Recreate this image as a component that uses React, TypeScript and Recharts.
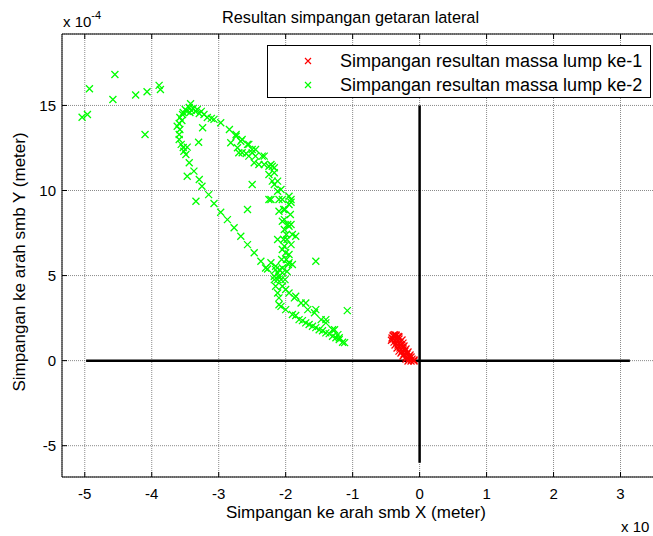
import React from 'react';
import {
  ScatterChart,
  Scatter,
  XAxis,
  YAxis,
  CartesianGrid,
  ReferenceLine,
} from 'recharts';

// values in units of 1e-4 m
const xTicks = [-5, -4, -3, -2, -1, 0, 1, 2, 3];
const yTicks = [-5, 0, 5, 10, 15];
const xDomain = [-5.34, 3.5];
const yDomain = [-6.84, 19.2];

const seriesNames = [
  'Simpangan resultan massa lump ke-1',
  'Simpangan resultan massa lump ke-2',
];

const lump1X = [
  -0.397, -0.352, -0.308, -0.397, -0.352, -0.308, -0.263, -0.382, -0.337, -0.293, -0.248,
  -0.367, -0.323, -0.278, -0.233, -0.337, -0.293, -0.248, -0.203, -0.308, -0.263, -0.218,
  -0.173, -0.278, -0.233, -0.188, -0.143, -0.248, -0.203, -0.158, -0.128, -0.203, -0.158,
  -0.113, -0.084, -0.173, -0.128, -0.084, -0.412, -0.42, -0.39, -0.37, -0.35, -0.32,
];
const lump1Y = [
  1.45, 1.45, 1.39, 1.27, 1.27, 1.27, 1.21, 1.09, 1.09, 1.09, 1.03,
  0.92, 0.92, 0.92, 0.86, 0.74, 0.74, 0.74, 0.68, 0.56, 0.56, 0.56,
  0.51, 0.45, 0.39, 0.39, 0.33, 0.27, 0.21, 0.21, 0.21, 0.09, 0.09,
  0.09, 0.04, -0.02, -0.02, -0.02, 1.33, 1.2, 1.5, 1.52, 1.5, 1.42,
];

const lump2X = [
  // scattered outliers
  -4.55, -4.93, -4.58, -4.24, -4.07, -3.89, -3.87, -5.04, -4.96, -4.10, -3.42, -1.08, -1.55,
  // top of loop
  -3.50, -3.44, -3.38, -3.32, -3.26, -3.53, -3.47, -3.41, -3.35, -3.29, -3.22, -3.58, -3.55,
  -3.59, -3.58, -3.59, -3.56, -3.53, -3.49, -3.43, -3.17, -3.11,
  // left branch
  -3.54, -3.62, -3.59, -3.52, -3.44, -3.37, -3.29, -3.25, -3.15, -3.07, -2.97, -2.87, -2.77,
  -2.67, -2.57, -2.47, -2.37, -2.27, -2.17,
  // interior
  -3.24, -3.30, -3.47, -3.34, -2.57, -2.50, -3.47, -1.85, -1.92, -1.95, -1.90, -2.25,
  // right branch
  -3.07, -2.97, -2.84, -2.74, -2.65, -2.55, -2.45, -2.32, -2.22, -2.17, -2.12, -2.07, -2.05,
  -2.03, -2.02, -2.02, -2.03, -2.05, -2.06, -2.09, -2.12,
  // inner band
  -2.82, -2.72, -2.65, -2.55, -2.47, -2.40, -2.25, -2.17, -2.74, -2.67, -2.57, -2.50, -2.45,
  -2.70, -2.59, -2.50, -2.35, -2.32, -2.20, -2.25, -2.20, -2.17, -2.12, -2.22, -2.10, -1.95,
  -1.92, -2.10, -2.05, -1.97, -2.12, -2.02, -1.92, -2.00, -1.95, -2.05, -2.15, -2.10,
  // second column
  -1.95, -1.93, -1.92, -1.90, -1.95, -1.96, -1.98, -2.01, -1.99, -1.98, -1.99, -2.01,
  // tail
  -2.15, -2.12, -2.17, -2.15, -2.12, -2.10, -2.05, -2.07, -2.05, -2.30, -2.22, -2.07,
  -1.95, -1.87, -1.77, -1.67, -1.57, -1.47, -1.40, -1.30, -1.22,
  -2.10, -2.00, -1.90, -1.80, -1.70, -1.60, -1.50, -1.40, -1.30, -1.20, -1.15,
  -1.85, -1.75, -1.65, -1.55, -1.45, -1.35, -1.25, -1.12,
  -2.00, -1.85, -1.70, -1.55, -1.40, -1.27, -1.20,
];
const lump2Y = [
  16.82, 15.98, 15.35, 15.61, 15.81, 16.18, 15.94, 14.31, 14.47, 13.29, 15.10, 2.94, 5.84,
  14.76, 14.88, 14.82, 14.76, 14.65, 14.59, 14.65, 14.71, 14.65, 14.53, 14.47, 14.29, 14.12,
  13.94, 13.59, 13.29, 12.71, 12.53, 12.12, 14.59, 14.29, 14.24,
  14.47, 13.78, 13.0, 12.31, 11.63, 11.14, 10.65, 10.25, 9.76, 9.24, 8.72, 8.29, 7.81,
  7.31, 6.82, 6.34, 5.84, 5.39, 4.96,
  13.69, 12.84, 10.84, 9.37, 8.88, 10.35, 12.55, 7.31, 9.47, 7.90, 5.65, 9.47,
  14.18, 13.98, 13.59, 13.29, 13.0, 12.71, 12.41, 12.02, 11.53, 11.04, 10.55, 10.06, 9.47,
  8.88, 8.29, 7.71, 7.12, 6.53, 5.94, 5.35, 4.76,
  12.81, 12.51, 12.22, 12.02, 11.63, 11.53, 11.43, 11.34, 13.19, 12.90, 12.71, 12.41, 12.02,
  12.22, 12.18, 12.22, 12.02, 11.53, 11.43, 10.94, 10.55, 10.35, 9.96, 9.47, 9.47, 9.66,
  9.31, 8.78, 8.19, 8.0, 7.12, 6.72, 6.82, 6.34, 5.75, 5.45, 5.35, 4.96,
  9.18, 8.59, 8.0, 7.41, 6.24, 5.65, 5.24, 8.88, 7.41, 7.12, 5.94, 4.76,
  5.55, 5.16, 4.76, 4.37, 3.98, 3.69, 5.16, 4.76, 4.37, 5.45, 5.75, 3.19,
  3.98, 3.69, 3.39, 3.0, 2.81, 2.41, 2.22, 1.82, 1.53,
  3.29, 3.0, 2.71, 2.41, 2.22, 2.02, 1.82, 1.63, 1.43, 1.24, 1.08,
  2.65, 2.35, 2.12, 1.94, 1.76, 1.59, 1.35, 1.06,
  4.18, 3.78, 3.39, 3.0, 2.41, 1.82, 1.35,
];

// black reference axes drawn in the plot
const hLineX = [-4.98, 3.14];
const vLineY = [-6, 15];

const lump1 = lump1X.map((x, i) => ({ x, y: lump1Y[i] }));
const lump2 = lump2X.map((x, i) => ({ x, y: lump2Y[i] }));

const FONT = '"Liberation Sans", Arial, sans-serif';

const makeCross = (color: string) => (props: any) => {
  const { cx, cy } = props;
  if (cx == null || cy == null) return <g />;
  const s = 3.5;
  return (
    <path
      d={`M${cx - s},${cy - s}L${cx + s},${cy + s}M${cx - s},${cy + s}L${cx + s},${cy - s}`}
      stroke={color}
      strokeWidth={1.3}
      fill="none"
    />
  );
};

const Cross = ({ color }: { color: string }) => (
  <svg width={10} height={10} style={{ display: 'block' }}>
    <path d="M2,2L8,8M2,8L8,2" stroke={color} strokeWidth={1.2} />
  </svg>
);

export default function App() {
  const tickStyle = { fill: '#000', fontSize: 15, fontFamily: FONT };
  return (
    <div
      style={{
        position: 'absolute',
        left: 0,
        top: 0,
        width: 653,
        height: 536,
        overflow: 'hidden',
        background: '#fff',
        fontFamily: FONT,
      }}
    >
      <ScatterChart
        width={660}
        height={536}
        margin={{ top: 24, left: 22, right: 6, bottom: 29 }}
      >
        <CartesianGrid stroke="#8a8a8a" strokeDasharray="1 1" strokeWidth={1} />
        <XAxis
          type="number"
          dataKey="x"
          domain={xDomain}
          ticks={xTicks}
          allowDataOverflow
          height={30}
          tickSize={-5}
          tickMargin={16}
          tick={tickStyle}
          axisLine={{ stroke: '#000' }}
          tickLine={{ stroke: '#000' }}
          interval={0}
        />
        <XAxis
          xAxisId="top"
          orientation="top"
          type="number"
          dataKey="x"
          domain={xDomain}
          ticks={xTicks}
          allowDataOverflow
          height={10}
          tickSize={-5}
          tickFormatter={() => ''}
          axisLine={{ stroke: '#000' }}
          tickLine={{ stroke: '#000' }}
          interval={0}
        />
        <YAxis
          type="number"
          dataKey="y"
          domain={yDomain}
          ticks={yTicks}
          allowDataOverflow
          width={40}
          tickSize={-5}
          tickMargin={11}
          tick={tickStyle}
          axisLine={{ stroke: '#000' }}
          tickLine={{ stroke: '#000' }}
          interval={0}
        />
        <Scatter
          name={seriesNames[1]}
          data={lump2}
          fill="#00ff00"
          shape={makeCross('#00ff00')}
          isAnimationActive={false}
        />
        <Scatter
          name={seriesNames[0]}
          data={lump1}
          fill="#ff0000"
          shape={makeCross('#ff0000')}
          isAnimationActive={false}
        />
        <ReferenceLine
          segment={[
            { x: hLineX[0], y: 0 },
            { x: hLineX[1], y: 0 },
          ]}
          stroke="#000"
          strokeWidth={2.5}
        />
        <ReferenceLine
          segment={[
            { x: 0, y: vLineY[0] },
            { x: 0, y: vLineY[1] },
          ]}
          stroke="#000"
          strokeWidth={2.5}
        />
      </ScatterChart>

      {/* title */}
      <div
        style={{
          position: 'absolute',
          left: 222,
          top: 8,
          fontSize: 16.3,
          lineHeight: '18px',
          whiteSpace: 'nowrap',
          color: '#000',
        }}
      >
        Resultan simpangan getaran lateral
      </div>
      {/* y exponent */}
      <div
        style={{
          position: 'absolute',
          left: 63,
          top: 13,
          fontSize: 15,
          lineHeight: '17px',
          whiteSpace: 'nowrap',
        }}
      >
        x 10<span style={{ fontSize: 11, position: 'relative', top: -8 }}>-4</span>
      </div>
      {/* x exponent (cut off at the right edge in the original) */}
      <div
        style={{
          position: 'absolute',
          left: 621,
          top: 518,
          fontSize: 15,
          lineHeight: '17px',
          whiteSpace: 'nowrap',
        }}
      >
        x 10
      </div>
      {/* x label */}
      <div
        style={{
          position: 'absolute',
          left: 226,
          top: 503,
          fontSize: 17,
          lineHeight: '19px',
          whiteSpace: 'nowrap',
        }}
      >
        Simpangan ke arah smb X (meter)
      </div>
      {/* y label */}
      <div
        style={{
          position: 'absolute',
          left: 19,
          top: 262,
          fontSize: 17,
          lineHeight: '19px',
          whiteSpace: 'nowrap',
          transform: 'translate(-50%, -50%) rotate(-90deg)',
        }}
      >
        Simpangan ke arah smb Y (meter)
      </div>
      {/* legend */}
      <div
        style={{
          position: 'absolute',
          left: 267,
          top: 45,
          width: 384,
          height: 53,
          border: '1px solid #000',
          background: '#fff',
          boxSizing: 'border-box',
        }}
      >
        {[
          { name: seriesNames[0], color: '#ff0000' },
          { name: seriesNames[1], color: '#00ff00' },
        ].map((item, i) => (
          <div
            key={i}
            style={{
              position: 'absolute',
              left: 35,
              top: 4 + i * 24,
              height: 22,
              display: 'flex',
              alignItems: 'center',
              whiteSpace: 'nowrap',
            }}
          >
            <Cross color={item.color} />
            <span style={{ marginLeft: 27, fontSize: 18 }}>{item.name}</span>
          </div>
        ))}
      </div>
    </div>
  );
}
